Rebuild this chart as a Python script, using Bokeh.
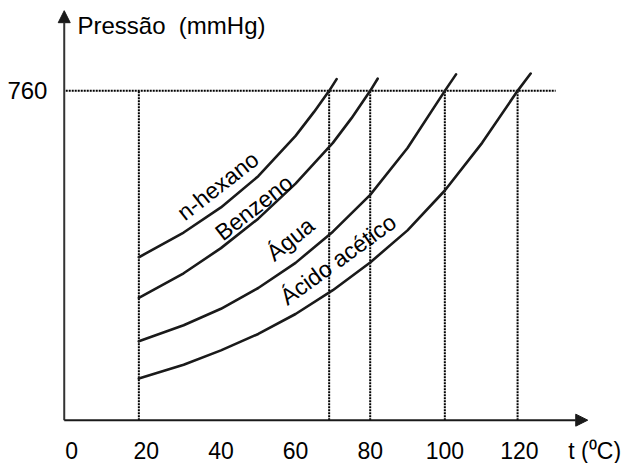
from bokeh.plotting import figure
from bokeh.models import Arrow, NormalHead, Range1d
from bokeh.core.properties import value
from bokeh.embed import file_html
from bokeh.resources import INLINE
import math

# ---- data (temperature in °C, pressure in mmHg) ----
hexane_t = [18, 30, 40, 50, 60, 65, 69, 71]
hexane_p = [376, 433, 491, 563, 656, 712, 760, 787]

benzene_t = [18, 30, 40, 50, 60, 70, 75, 80, 82]
benzene_p = [282, 339, 397, 465, 546, 640, 697, 760, 788]

water_t = [18, 30, 40, 50, 60, 70, 80, 90, 100, 103]
water_p = [182, 219, 257, 305, 363, 435, 520, 628, 760, 798]

acetic_t = [18, 30, 40, 50, 60, 70, 80, 90, 100, 110, 119.5, 123]
acetic_p = [96, 128, 161, 199, 245, 300, 364, 438, 530, 640, 760, 800]

curve_names = ["n-hexano", "Benzeno", "Água", "Ácido acético"]

x_ticks = [0, 20, 40, 60, 80, 100, 120]
x_tick_labels = ["0", "20", "40", "60", "80", "100", "120"]
y_ticks = [760]
y_tick_labels = ["760"]

start_temp = 18
boiling_points = [69, 80, 100, 119.5]
atm_pressure = 760

x_title = "t (\u2070C)"
y_title = "Pressão\u00a0 (mmHg)"

# ---- figure ----
FONT = value("Liberation Sans")
INK = "#1a1a1a"

p = figure(width=625, height=463,
           x_range=Range1d(-19.08, 148.42), y_range=Range1d(-100, 968.5),
           output_backend="svg", toolbar_location=None,
           x_axis_location=None, y_axis_location=None,
           min_border=0, min_border_left=0, min_border_right=0,
           min_border_top=0, min_border_bottom=0)
p.outline_line_color = None
p.background_fill_color = "white"
p.border_fill_color = "white"
p.grid.visible = False

# dotted guide lines
vx = [start_temp] + boiling_points
p.segment(x0=vx, y0=[0] * len(vx), x1=vx, y1=[atm_pressure] * len(vx),
          line_color="black", line_width=2, line_dash="2 1")
p.segment(x0=[-1.6], y0=[atm_pressure], x1=[129.7], y1=[atm_pressure],
          line_color="black", line_width=2, line_dash="2 1")

# vapour pressure curves
for ts, ps in [(hexane_t, hexane_p), (benzene_t, benzene_p),
               (water_t, water_p), (acetic_t, acetic_p)]:
    p.line(ts, ps, line_color=INK, line_width=2.6, line_join="round", line_cap="round")

# axes with arrow heads
p.add_layout(Arrow(end=NormalHead(size=12, fill_color=INK, line_color=INK, line_width=1),
                   x_start=-2, y_start=0, x_end=-2, y_end=945,
                   line_color="#333333", line_width=2))
p.add_layout(Arrow(end=NormalHead(size=12, fill_color=INK, line_color=INK, line_width=1),
                   x_start=-2, y_start=0, x_end=138.3, y_end=0,
                   line_color=INK, line_width=2))

# tick labels
p.text(x=x_ticks, y=[-70] * len(x_ticks), text=x_tick_labels,
       text_font=FONT, text_font_size="23px", text_align="center",
       text_baseline="middle", text_color="black")
p.text(x=[-6.5], y=y_ticks, text=y_tick_labels,
       text_font=FONT, text_font_size="24px", text_align="right",
       text_baseline="middle", text_color="black")

# axis titles
p.text(x=[133.1], y=[-70], text=[x_title], text_font=FONT, text_font_size="23px",
       text_align="left", text_baseline="middle", text_color="black")
p.text(x=[1.55], y=[911], text=[y_title], text_font=FONT, text_font_size="24px",
       text_align="left", text_baseline="middle", text_color="black")

# curve labels (rotated along the curves)
lab_x = [39.2, 48.8, 58.6, 71.4]
lab_y = [541, 491, 418, 371]
lab_angle = [math.radians(a) for a in (38, 38, 39, 36)]
p.text(x=lab_x, y=lab_y, text=curve_names, angle=lab_angle,
       text_font=FONT, text_font_size="23px", text_align="center",
       text_baseline="middle", text_color="black")

open("out.html", "w").write(file_html(p, INLINE))
